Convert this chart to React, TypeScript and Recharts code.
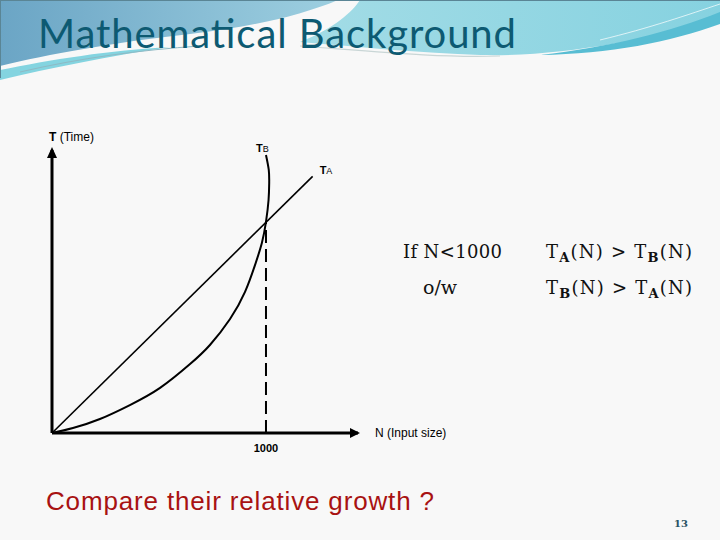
import React from 'react';
import { LineChart, Line, XAxis, YAxis, ReferenceLine, ReferenceDot } from 'recharts';

const title = 'Mathematical Background';
const xAxisName = 'N (Input size)';
const question = 'Compare their relative growth ?';
const pageNumber = '13';
const nMax = 1430;
const tMax = 1318;
const xTicks = [1000];
const crossover = { n: 1000, t: 983 };

const taData = [
  { n: 0, t: 0 },
  { n: 1218, t: 1195 },
];

const tbData = [
  { n: 0, t: 0 },
  { n: 98, t: 23 },
  { n: 224, t: 65 },
  { n: 364, t: 130 },
  { n: 505, t: 210 },
  { n: 645, t: 321 },
  { n: 738, t: 410 },
  { n: 832, t: 531 },
  { n: 902, t: 657 },
  { n: 949, t: 783 },
  { n: 981, t: 886 },
  { n: 1000, t: 983 },
  { n: 1012, t: 1085 },
  { n: 1015, t: 1164 },
  { n: 1013, t: 1225 },
  { n: 1000, t: 1295 },
];

const sans = "'Liberation Sans', Arial, sans-serif";
const serif = "'DejaVu Serif', 'Liberation Serif', serif";

const TaLast = taData[taData.length - 1];
const TbLast = tbData[tbData.length - 1];

export default function App() {
  return (
    <div style={{ position: 'fixed', left: 0, top: 0, width: 720, height: 540, overflow: 'hidden' }}>
      <svg width={720} height={540} style={{ position: 'absolute', left: 0, top: 0 }}>
        <defs>
          <linearGradient id="blueG" x1="0" x2="1" y1="0" y2="0">
            <stop offset="0" stopColor="#6ba5c5" />
            <stop offset="1" stopColor="#9dcfe0" />
          </linearGradient>
          <linearGradient id="cyanG" x1="0" x2="1" y1="0" y2="0">
            <stop offset="0" stopColor="#a3dce6" />
            <stop offset="1" stopColor="#86d2e0" />
          </linearGradient>
        </defs>
        <rect x={0} y={0} width={720} height={540} fill="#f8f8f8" />
        <path d="M360,0 H720 V22 C640,40 560,57 480,55 C420,53 360,47 300,42 C335,28 352,12 360,0 Z" fill="url(#cyanG)" />
        <path d="M0,0 H338 C300,16 250,27 190,34 C110,43 50,54 0,66 Z" fill="url(#blueG)" />
        <path d="M0,70 C50,60 110,50 170,47 C110,56 50,68 0,80 Z" fill="#84d4e0" />
        <path d="M540,55 C610,47 670,32 720,12 V24 C670,42 610,54 540,55 Z" fill="#58bdd3" />
        <path d="M300,46 C380,52 440,58 500,56" stroke="#c9d6d6" strokeWidth={1.2} fill="none" />
        <path d="M20,72 C80,58 140,50 200,46" stroke="#8fb9c4" strokeWidth={1} fill="none" />
        <path d="M600,40 C650,28 690,14 720,4" stroke="#ffffff" strokeWidth={1} fill="none" opacity={0.7} />
        <line x1={0} y1={0.5} x2={720} y2={0.5} stroke="#5a8595" strokeWidth={1} />
        <line x1={0.5} y1={0} x2={0.5} y2={78} stroke="#5a8595" strokeWidth={1} />
        <text x={38} y={48} fontFamily="Lato, 'Open Sans', sans-serif" fontSize={40} fill="#0d5a72" textLength={478} lengthAdjust="spacing">
          {title}
        </text>

        <text x={403} y={258} fontFamily={serif} fontSize={18} fill="#111" textLength={99} lengthAdjust="spacing">If N&lt;1000</text>
        <text x={423} y={294} fontFamily={serif} fontSize={19} fill="#111">o/w</text>
        <text x={546} y={258} fontFamily={serif} fontSize={18} fill="#111" textLength={146} lengthAdjust="spacing">
          T<tspan fontSize={13} fontWeight="bold" dy={4}>A</tspan>
          <tspan dy={-4}>(N) &gt; T</tspan>
          <tspan fontSize={13} fontWeight="bold" dy={4}>B</tspan>
          <tspan dy={-4}>(N)</tspan>
        </text>
        <text x={546} y={294} fontFamily={serif} fontSize={18} fill="#111" textLength={146} lengthAdjust="spacing">
          T<tspan fontSize={13} fontWeight="bold" dy={4}>B</tspan>
          <tspan dy={-4}>(N) &gt; T</tspan>
          <tspan fontSize={13} fontWeight="bold" dy={4}>A</tspan>
          <tspan dy={-4}>(N)</tspan>
        </text>

        <text x={46} y={510} fontFamily={sans} fontSize={26} fill="#a81212" textLength={388} lengthAdjust="spacing">{question}</text>
        <text x={674} y={527} fontFamily={serif} fontSize={10} fontWeight="bold" fill="#2a5364">{pageNumber}</text>
      </svg>

      <div style={{ position: 'absolute', left: 0, top: 0 }}>
        <LineChart width={720} height={540} margin={{ top: 150, right: 362, bottom: 77, left: 52 }}>
          <XAxis
            type="number"
            dataKey="n"
            domain={[0, nMax]}
            allowDataOverflow
            ticks={xTicks}
            height={30}
            tickLine={false}
            tickSize={0}
            tickMargin={0}
            axisLine={{ stroke: '#000', strokeWidth: 3 }}
            tick={(p: any) => (
              <text x={p.x} y={p.y + 19} textAnchor="middle" fontFamily={sans} fontSize={11} fontWeight="bold" fill="#000">
                {p.payload.value}
              </text>
            )}
          />
          <YAxis type="number" domain={[0, tMax]} allowDataOverflow hide />
          <ReferenceLine
            segment={[{ x: 0, y: 0 }, { x: 0, y: tMax }]}
            stroke="#000"
            strokeWidth={3}
            ifOverflow="visible"
          />
          <ReferenceLine
            segment={[{ x: crossover.n, y: 0 }, { x: crossover.n, y: crossover.t }]}
            stroke="#000"
            strokeWidth={2}
            strokeDasharray="13 6"
            ifOverflow="visible"
          />
          <Line data={taData} dataKey="t" type="linear" stroke="#000" strokeWidth={1.6} dot={false} isAnimationActive={false} />
          <Line data={tbData} dataKey="t" type="natural" stroke="#000" strokeWidth={2} dot={false} isAnimationActive={false} />
          <ReferenceDot
            x={nMax}
            y={0}
            r={0}
            ifOverflow="visible"
            shape={(p: any) => (
              <g>
                <polygon points={`${p.cx + 2},${p.cy} ${p.cx - 8},${p.cy - 5} ${p.cx - 8},${p.cy + 5}`} fill="#000" />
                <text x={p.cx + 17} y={p.cy + 4} fontFamily={sans} fontSize={12} fill="#000">{xAxisName}</text>
              </g>
            )}
          />
          <ReferenceDot
            x={0}
            y={tMax}
            r={0}
            ifOverflow="visible"
            shape={(p: any) => (
              <g>
                <polygon points={`${p.cx},${p.cy - 3} ${p.cx - 5},${p.cy + 8} ${p.cx + 5},${p.cy + 8}`} fill="#000" />
                <text x={p.cx - 3} y={p.cy - 9} fontFamily={sans} fontSize={12} fill="#000">
                  <tspan fontWeight="bold">T</tspan> (Time)
                </text>
              </g>
            )}
          />
          <ReferenceDot
            x={TbLast.n}
            y={TbLast.t}
            r={0}
            ifOverflow="visible"
            shape={(p: any) => (
              <g>
                <rect x={p.cx - 12} y={p.cy - 14} width={20} height={13} fill="#f8f8f8" />
                <text x={p.cx - 10} y={p.cy - 3} fontFamily={sans} fontSize={11} fill="#000">
                  <tspan fontWeight="bold">T</tspan>
                  <tspan fontSize={9}>B</tspan>
                </text>
              </g>
            )}
          />
          <ReferenceDot
            x={TaLast.n}
            y={TaLast.t}
            r={0}
            ifOverflow="visible"
            shape={(p: any) => (
              <text x={p.cx + 7} y={p.cy - 2} fontFamily={sans} fontSize={11} fill="#000">
                <tspan fontWeight="bold">T</tspan>
                <tspan fontSize={9}>A</tspan>
              </text>
            )}
          />
        </LineChart>
      </div>
    </div>
  );
}
